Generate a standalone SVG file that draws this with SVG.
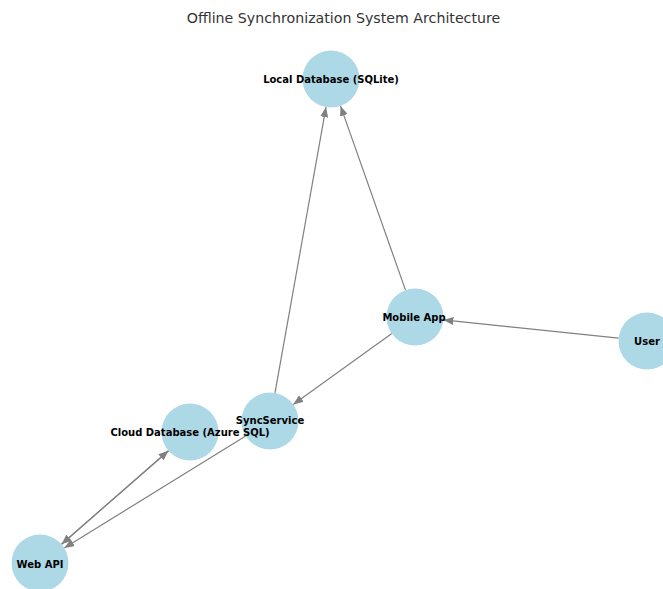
<svg xmlns="http://www.w3.org/2000/svg" width="663" height="589" viewBox="0 0 663 589">
  <style>
    .node circle { fill: #ADD8E6; }
    .node text { font-family: "DejaVu Sans", "Liberation Sans", sans-serif; font-weight: bold; font-size: 10px; fill: #000; text-anchor: middle; dominant-baseline: central; }
    .edge { stroke: #808080; stroke-width: 1.2; fill: none; marker-end: url(#arrow); }
    .title { font-family: "DejaVu Sans", "Liberation Sans", sans-serif; font-size: 14.2px; fill: #333; text-anchor: middle; }
  </style>
  <defs>
    <marker id="arrow" markerUnits="userSpaceOnUse" viewBox="0 0 10 8" refX="10" refY="4" markerWidth="10" markerHeight="8" orient="auto">
      <path d="M0,0 L10,4 L0,8 z" fill="#808080"/>
    </marker>
  </defs>
  <rect width="663" height="589" fill="#ffffff"/>
  <text class="title" x="343.5" y="22.5">Offline Synchronization System Architecture</text>
  <g id="connectors">
    <line class="edge" x1="405.5" y1="290.1" x2="340.5" y2="105.9"/>
    <line class="edge" x1="275.0" y1="392.9" x2="326.0" y2="107.1"/>
    <line class="edge" x1="618.6" y1="338.1" x2="443.4" y2="319.9"/>
    <line class="edge" x1="391.8" y1="333.6" x2="293.2" y2="404.4"/>
    <line class="edge" x1="61.5" y1="544.2" x2="168.5" y2="450.8"/>
    <line class="edge" x1="168.5" y1="450.8" x2="61.5" y2="544.2"/>
    <line class="edge" x1="245.7" y1="436.0" x2="64.3" y2="548.0"/>
  </g>
  <g id="node-local-db" class="node">
    <circle cx="331" cy="79" r="28.5"/>
    <text x="331" y="79">Local Database (SQLite)</text>
  </g>
  <g id="node-mobile-app" class="node">
    <circle cx="415" cy="317" r="28.5"/>
    <text x="414" y="317">Mobile App</text>
  </g>
  <g id="node-user" class="node">
    <circle cx="647" cy="341" r="28.5"/>
    <text x="647" y="341">User</text>
  </g>
  <g id="node-sync-service" class="node">
    <circle cx="270" cy="421" r="28.5"/>
    <text x="270" y="420.5">SyncService</text>
  </g>
  <g id="node-cloud-db" class="node">
    <circle cx="190" cy="432" r="28.5"/>
    <text x="190" y="432">Cloud Database (Azure SQL)</text>
  </g>
  <g id="node-web-api" class="node">
    <circle cx="40" cy="563" r="28.5"/>
    <text x="40" y="564">Web API</text>
  </g>
</svg>
